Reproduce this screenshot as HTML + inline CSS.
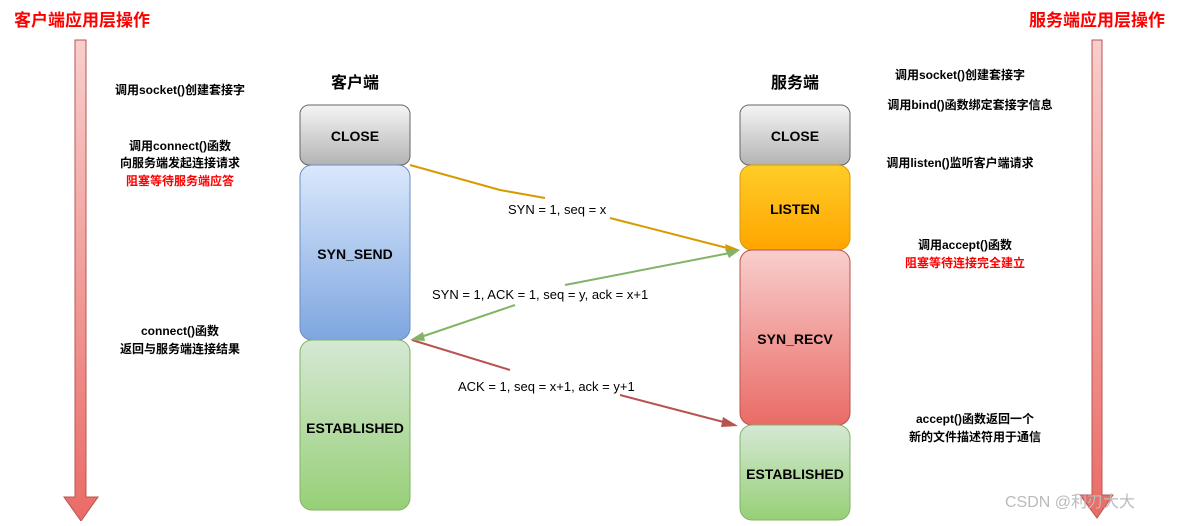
<!DOCTYPE html>
<html><head><meta charset="utf-8"><style>
body{margin:0;background:#fff;width:1185px;height:521px;overflow:hidden}
text{font-family:"Liberation Sans","Noto Sans CJK SC",sans-serif;font-weight:bold}
</style></head><body>
<svg width="1185" height="521" xmlns="http://www.w3.org/2000/svg">
<defs>
<linearGradient id="ar" x1="0" y1="0" x2="0" y2="1"><stop offset="0" stop-color="#f8cecc"/><stop offset="1" stop-color="#ea6b66"/></linearGradient>
<linearGradient id="gr" x1="0" y1="0" x2="0" y2="1"><stop offset="0" stop-color="#f5f5f5"/><stop offset="1" stop-color="#b3b3b3"/></linearGradient>
<linearGradient id="bl" x1="0" y1="0" x2="0" y2="1"><stop offset="0" stop-color="#dae8fc"/><stop offset="1" stop-color="#7ea6e0"/></linearGradient>
<linearGradient id="gn" x1="0" y1="0" x2="0" y2="1"><stop offset="0" stop-color="#d5e8d4"/><stop offset="1" stop-color="#97d077"/></linearGradient>
<linearGradient id="or" x1="0" y1="0" x2="0" y2="1"><stop offset="0" stop-color="#ffcd28"/><stop offset="1" stop-color="#ffa500"/></linearGradient>
<linearGradient id="rd" x1="0" y1="0" x2="0" y2="1"><stop offset="0" stop-color="#f8cecc"/><stop offset="1" stop-color="#ea6b66"/></linearGradient>
</defs>
<text x="14" y="26" fill="#ff0000" font-size="17">客户端应用层操作</text>
<text x="1029" y="26" fill="#ff0000" font-size="17">服务端应用层操作</text>
<path d="M75,40 H86 V497 H98 L81,521 L64,497 H75 Z" fill="url(#ar)" stroke="#b85450"/>
<path d="M1092,40 H1102 V495 H1113 L1097,518 L1080,495 H1092 Z" fill="url(#ar)" stroke="#b85450"/>
<g font-size="12" fill="#000" text-anchor="middle">
<text x="180" y="94">调用socket()创建套接字</text>
<text x="180" y="150">调用connect()函数</text>
<text x="180" y="167">向服务端发起连接请求</text>
<text x="180" y="185" fill="#ff0000">阻塞等待服务端应答</text>
<text x="180" y="335">connect()函数</text>
<text x="180" y="353">返回与服务端连接结果</text>
<text x="960" y="79">调用socket()创建套接字</text>
<text x="970" y="109">调用bind()函数绑定套接字信息</text>
<text x="960" y="167">调用listen()监听客户端请求</text>
<text x="965" y="249">调用accept()函数</text>
<text x="965" y="267" fill="#ff0000">阻塞等待连接完全建立</text>
<text x="975" y="423">accept()函数返回一个</text>
<text x="975" y="441">新的文件描述符用于通信</text>
</g>
<text x="355" y="88" font-size="16" text-anchor="middle">客户端</text>
<text x="795" y="88" font-size="16" text-anchor="middle">服务端</text>
<g stroke-width="1">
<rect x="300" y="105" width="110" height="60" rx="9" fill="url(#gr)" stroke="#666"/>
<rect x="300" y="165" width="110" height="175" rx="12" fill="url(#bl)" stroke="#6c8ebf"/>
<rect x="300" y="340" width="110" height="170" rx="12" fill="url(#gn)" stroke="#82b366"/>
<rect x="740" y="105" width="110" height="60" rx="9" fill="url(#gr)" stroke="#666"/>
<rect x="740" y="165" width="110" height="85" rx="12" fill="url(#or)" stroke="#d79b00"/>
<rect x="740" y="250" width="110" height="175" rx="12" fill="url(#rd)" stroke="#b85450"/>
<rect x="740" y="425" width="110" height="95" rx="12" fill="url(#gn)" stroke="#82b366"/>
</g>
<g font-size="14" text-anchor="middle">
<text x="355" y="141">CLOSE</text>
<text x="355" y="259">SYN_SEND</text>
<text x="355" y="433">ESTABLISHED</text>
<text x="795" y="141">CLOSE</text>
<text x="795" y="214">LISTEN</text>
<text x="795" y="344">SYN_RECV</text>
<text x="795" y="479">ESTABLISHED</text>
</g>
<g fill="none" stroke-width="2">
<path d="M410,165 L500,190 L545,198 M610,218 L735,250" stroke="#d79b00"/>
<path d="M735,252 L565,285 M515,305 L412,340" stroke="#82b366"/>
<path d="M412,340 L510,370 M620,395 L735,425" stroke="#b85450"/>
</g>
<path d="M740,250 L725,244 L728,254 Z" fill="#d79b00"/>
<path d="M740,250 L725,249 L729,258 Z" fill="#82b366"/>
<path d="M410,340 L423,332 L425,341 Z" fill="#82b366"/>
<path d="M738,426 L723,417 L721,427 Z" fill="#b85450"/>
<g font-size="13" font-weight="normal">
<text x="508" y="214" style="font-weight:normal">SYN = 1, seq = x</text>
<text x="432" y="299" style="font-weight:normal">SYN = 1,  ACK = 1,  seq = y, ack = x+1</text>
<text x="458" y="391" style="font-weight:normal">ACK = 1,  seq = x+1, ack = y+1</text>
</g>
<text x="1005" y="507" font-size="16" fill="#bbb" style="font-weight:normal">CSDN @利刃大大</text>
</svg>
</body></html>
